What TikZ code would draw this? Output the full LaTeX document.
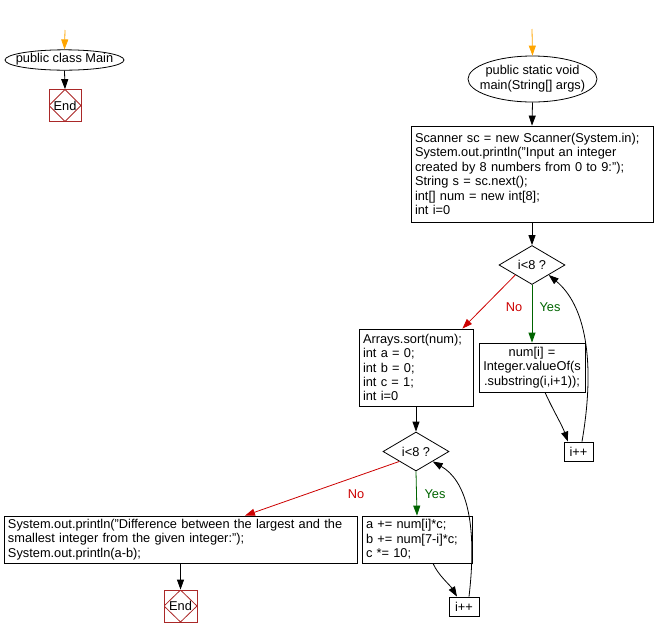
\documentclass[tikz,border=0pt]{standalone}
\usepackage{fontspec}
\setmainfont{Liberation Sans}
\usetikzlibrary{shapes.geometric,arrows.meta,calc}
\definecolor{endred}{RGB}{170,40,40}
\definecolor{nored}{RGB}{204,0,0}
\definecolor{yesgreen}{RGB}{0,100,0}
\definecolor{startor}{RGB}{255,165,0}
\newcommand{\zw}[1]{\makebox[0pt][c]{\begin{tabular}{@{}c@{}}#1\end{tabular}}}
\begin{document}
\begin{tikzpicture}[x=1pt,y=-1pt,
  every node/.style={font=\fontsize{12.8}{14.4}\selectfont},
  box/.style={draw, line width=0.8pt, inner xsep=4pt, inner ysep=0pt, align=left},
  ell/.style={draw, ellipse, line width=0.8pt, inner sep=0pt, align=center},
  dia/.style={draw, diamond, line width=0.8pt, inner sep=0pt, minimum width=66pt, minimum height=39pt},
  endbox/.style={draw=endred, line width=0.8pt, inner sep=0pt, minimum width=32pt, minimum height=32pt,
    path picture={\draw[endred, line width=0.8pt] (path picture bounding box.north) -- (path picture bounding box.east) -- (path picture bounding box.south) -- (path picture bounding box.west) -- cycle;}},
  tip/.style={-{Triangle[length=10pt,width=7pt]}},
  flow/.style={tip, line width=0.8pt, black},
  start/.style={tip, line width=0.8pt, startor},
  noedge/.style={tip, line width=0.8pt, nored},
  yesedge/.style={tip, line width=0.8pt, yesgreen},
  nolab/.style={text=nored},
  yeslab/.style={text=yesgreen}]
\useasboundingbox (0,0) rectangle (656,638);

% left: class
\coordinate (s1) at (65,30);
\node[ell, minimum width=119pt, minimum height=20pt] (cls) at (64.5,60) {\zw{public class Main}};
\node[endbox] (end1) at (65,105.5) {End};
\draw[start] (s1) -- (cls.north);
\draw[flow] (cls.south) -- (end1.north);

% main
\coordinate (s2) at (532,29);
\node[ell, minimum width=129pt, minimum height=46pt] (main) at (532.5,79) {\zw{public static void\\main(String[] args)}};
\node[box, text width=234pt, minimum height=96pt] (init) at (532,174) {Scanner sc = new Scanner(System.in);\\System.out.println("Input an integer\\created by 8 numbers from 0 to 9:");\\String s = sc.next();\\int[] num = new int[8];\\int i=0};
\node[dia] (d1) at (532,265) {i<8 ?};
\node[box, text width=106pt, minimum height=77pt] (sort) at (416,367.5) {Arrays.sort(num);\\int a = 0;\\int b = 0;\\int c = 1;\\int i=0};
\node[box, align=center, text width=98pt, minimum height=49pt] (num) at (532,367.5) {num[i] =\\Integer.valueOf(s\\.substring(i,i+1));};
\node[box, inner xsep=0pt, minimum width=29pt, minimum height=19pt] (inc1) at (578.5,451.5) {i++};
\node[dia] (d2) at (416,451.5) {i<8 ?};
\node[box, text width=345pt, minimum height=47pt] (pr) at (180.5,539.5) {System.out.println("Difference between the largest and the\\smallest integer from the given integer:");\\System.out.println(a-b);};
\node[box, text width=102pt, minimum height=47pt] (acc) at (417,539.5) {a += num[i]*c;\\b += num[7-i]*c;\\c *= 10;};
\node[endbox, minimum width=33pt] (end2) at (180.5,606) {End};
\node[box, inner xsep=0pt, minimum width=30pt, minimum height=19pt] (inc2) at (464,606.5) {i++};

\node[nolab] (no1) at (514,307) {No};
\node[yeslab] (yes1) at (550,307) {Yes};
\node[nolab] (no2) at (356,494) {No};
\node[yeslab] (yes2) at (435,494) {Yes};

\draw[start] (s2) -- (main.north);
\draw[flow] (main.south) -- (init.north);
\draw[flow] (init.south) -- (d1.north);
\draw[noedge] (d1.south west) -- ([xshift=-11pt]sort.north east);
\draw[yesedge] (d1.south) -- (num.north);
\draw[flow] ([xshift=13pt]num.south) .. controls (553,410) and (562,425) .. ([xshift=-10.5pt]inc1.north);
\draw[flow] ([xshift=3.5pt]inc1.north) .. controls (596,360) and (585,305) .. (d1.south east);
\draw[flow] (sort.south) -- (d2.north);
\draw[noedge] (d2.south west) -- ([xshift=64.5pt]pr.north);
\draw[yesedge] (d2.south) -- (acc.north);
\draw[flow] ([xshift=16pt]acc.south) .. controls (438,575) and (450,585) .. ([xshift=-7pt]inc2.north);
\draw[flow] ([xshift=5pt]inc2.north) .. controls (478,520) and (465,480) .. (d2.south east);
\draw[flow] (pr.south) -- (end2.north);
\end{tikzpicture}
\end{document}
